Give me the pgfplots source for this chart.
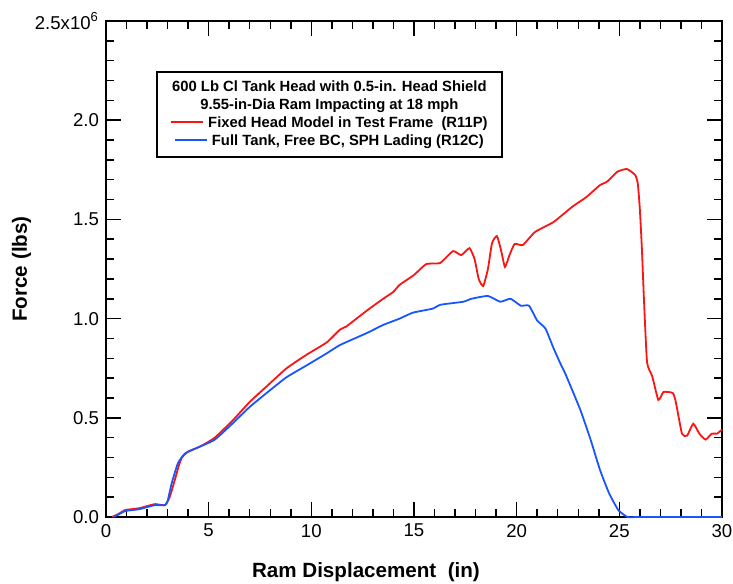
\documentclass[border=0pt]{standalone}
\usepackage{pgfplots}
\pgfplotsset{compat=1.18}
\usepackage{fontspec}
\setmainfont{Liberation Sans}
\definecolor{cred}{RGB}{250,20,20}
\definecolor{cblue}{RGB}{25,85,255}
\begin{document}
\begin{tikzpicture}
\begin{axis}[name=ax, scale only axis, width=308bp, height=248bp,
 xmin=0, xmax=30, ymin=0, ymax=2.5,
 xtick={0,5,10,15,20,25,30}, xticklabels={0,5,10,15,20,25,30},
 ytick={0,0.5,1,1.5,2,2.5}, yticklabels={0.0,0.5,1.0,1.5,2.0,2.5x10\textsuperscript{6}},
 minor x tick num=4, minor y tick num=4, tick align=inside,
 major tick length=7.5bp, minor tick length=4bp,
 axis line style={line width=0.75bp},
 every tick/.style={black, line width=0.75bp},
 ticklabel style={font=\fontsize{9.3bp}{11bp}\selectfont},
 xlabel={Ram Displacement\ \ (in)}, ylabel={Force (lbs)},
 label style={font=\fontsize{10.3bp}{12bp}\selectfont\bfseries},
 xlabel style={at={(axis description cs:0.422,-0.111)}, anchor=center},
 ylabel style={at={(axis description cs:-0.137,0.5)}, anchor=center},
 clip=false]
\addplot[cred, line width=0.9bp, smooth, tension=0.3] coordinates {
(0.3,0) (0.6,0.015) (0.93,0.035) (1.3,0.04) (1.65,0.045) (2.0,0.055) (2.4,0.065) (2.87,0.06) (3.1,0.1) (3.36,0.19) (3.55,0.26) (3.7,0.30) (4.0,0.33) (4.58,0.355) (5.3,0.40) (6.2,0.49) (7.0,0.58) (8.0,0.675) (8.8,0.75) (9.8,0.82) (10.75,0.88) (11.4,0.945) (11.7,0.96) (12.7,1.04) (13.5,1.10) (14.0,1.135) (14.3,1.17) (15.0,1.22) (15.6,1.275) (16.27,1.28) (16.9,1.34) (17.3,1.32) (17.7,1.355) (17.95,1.30) (18.15,1.20) (18.37,1.164) (18.6,1.25) (18.8,1.38) (19.04,1.416) (19.25,1.34) (19.43,1.26) (19.65,1.32) (19.9,1.376) (20.3,1.371) (20.9,1.437) (21.8,1.487) (22.7,1.563) (23.4,1.613) (24.06,1.673) (24.4,1.69) (24.9,1.74) (25.37,1.754) (25.77,1.724) (25.9,1.68) (26.0,1.55) (26.1,1.35) (26.2,1.094) (26.35,0.78) (26.6,0.71) (26.9,0.59) (27.15,0.63) (27.6,0.625) (27.75,0.58) (28.05,0.42) (28.3,0.41) (28.6,0.47) (28.9,0.42) (29.2,0.39) (29.5,0.42) (29.75,0.42) (30,0.44)
};
\addplot[cblue, line width=0.9bp, smooth, tension=0.3] coordinates {
(0.35,0) (0.6,0.012) (0.93,0.03) (1.3,0.035) (1.65,0.04) (2.0,0.05) (2.4,0.06) (2.87,0.06) (3.0,0.08) (3.2,0.17) (3.5,0.27) (3.85,0.32) (4.58,0.355) (5.3,0.39) (6.2,0.475) (7.0,0.555) (8.0,0.64) (8.8,0.705) (9.8,0.766) (10.75,0.825) (11.4,0.867) (12.7,0.927) (13.5,0.968) (14.3,1.00) (14.95,1.03) (15.9,1.05) (16.3,1.07) (17.4,1.085) (17.8,1.10) (18.6,1.114) (19.2,1.085) (19.7,1.10) (20.2,1.065) (20.6,1.065) (21.0,0.99) (21.4,0.95) (21.8,0.85) (22.1,0.78) (22.4,0.715) (23.1,0.54) (23.6,0.39) (24.06,0.237) (24.5,0.12) (24.95,0.035) (25.4,0) (26,0) (30,0)
};
\node[draw, line width=0.75bp, fill=white, minimum width=172.5bp, minimum height=42.5bp, align=center, inner sep=0pt, font=\fontsize{7.4bp}{9bp}\selectfont\bfseries] at (axis cs:10.88,2.029) {600 Lb Cl Tank Head with 0.5-in. Head Shield\\ 9.55-in-Dia Ram Impacting at 18 mph\\ \textcolor{cred}{\rule[0.6ex]{16bp}{0.8bp}}\hspace{2.5bp}Fixed Head Model in Test Frame\ \ (R11P)\\ \textcolor{cblue}{\rule[0.6ex]{16bp}{0.8bp}}\hspace{2.5bp}Full Tank, Free BC, SPH Lading (R12C)};
\end{axis}
\pgfresetboundingbox
\path (ax.south west) ++(-53bp,-33.5bp) rectangle ([xshift=5.5bp,yshift=10.5bp]ax.north east);
\end{tikzpicture}
\end{document}
